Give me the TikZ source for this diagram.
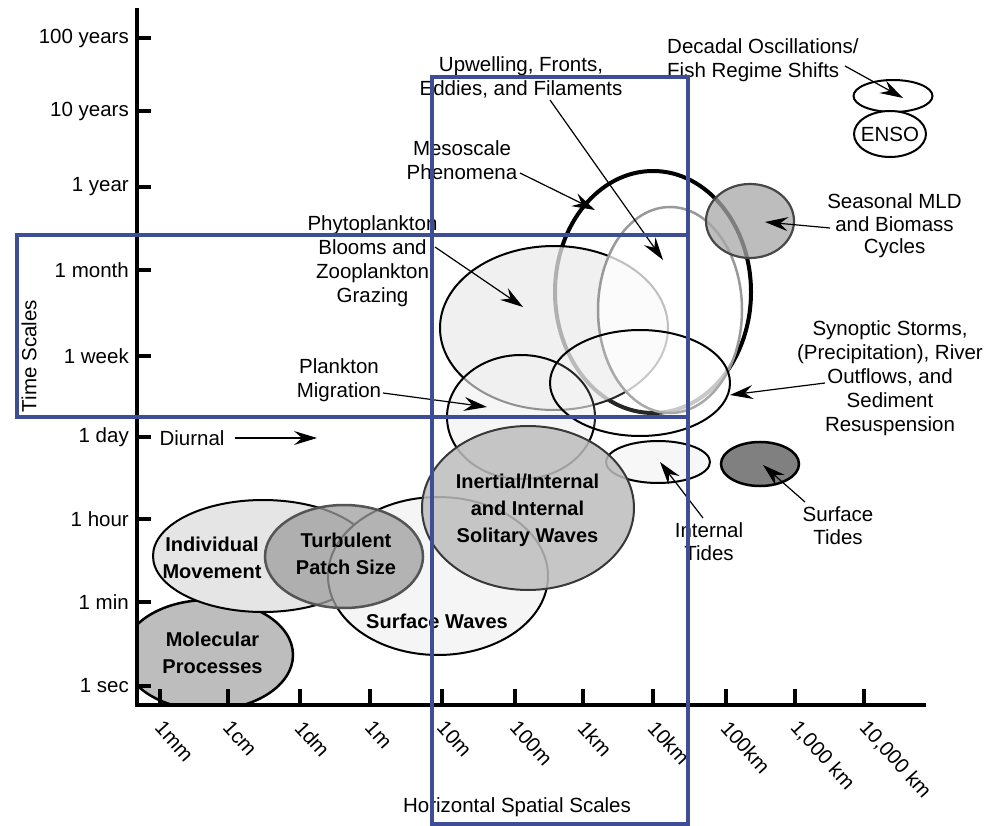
\documentclass[tikz,border=0pt]{standalone}
\usepackage{fontspec}
\setmainfont{Liberation Sans}
\usetikzlibrary{shapes.geometric,arrows.meta}
\definecolor{bluebox}{HTML}{3D4E97}
\begin{document}
\begin{tikzpicture}[x=1pt,y=-1pt,
  lbl/.style={font=\fontsize{20.5}{24}\selectfont, align=center, inner sep=0pt},
  ilbl/.style={font=\fontsize{20}{27}\selectfont\bfseries, align=center, inner sep=0pt},
  ell/.style={ellipse, draw, line width=2pt, inner sep=0pt},
  arr/.style={-{Stealth[length=23pt,width=14pt,inset=8pt]}, line width=1.2pt},
  axtick/.style={line width=3.5pt},
  bluerect/.style={draw=bluebox, line width=4pt}
]
\useasboundingbox (0,0) rectangle (986,826);
\fill[white] (0,0) rectangle (986,826);

% ---- ellipses (back to front)
\begin{scope}
  \clip (137,0) rectangle (986,705);
  \node[ell, line width=2.5pt, fill=black!26, minimum width=170pt, minimum height=110pt] (mol) at (208,655) {};
\end{scope}
\node[ell, fill=black!10, minimum width=220pt, minimum height=112pt] (ind) at (263,556) {};
\node[ell, fill=black!4, minimum width=220pt, minimum height=158pt] (sw) at (438,576) {};
\node[ell, draw=black!67, line width=2.5pt, fill=black!38, fill opacity=0.75, minimum width=158pt, minimum height=103pt] (turb) at (344,556.5) {};
\node[ell, line width=4pt, minimum width=196pt, minimum height=242pt] (meso) at (653,292) {};
\node[ell, fill=black!8, fill opacity=0.75, minimum width=228pt, minimum height=164pt] (phyto) at (554,328) {};
\node[ell, draw=black!40, line width=2.5pt, fill=white, fill opacity=0.75, minimum width=144pt, minimum height=206pt] (upw) at (670,310) {};
\node[ell, fill=black!6, fill opacity=0.6, minimum width=148pt, minimum height=124pt] (pmig) at (521,417) {};
\node[ell, fill=white, fill opacity=0.15, minimum width=180pt, minimum height=106pt] (syn) at (640,383) {};
\node[ell, fill=black!3, minimum width=104pt, minimum height=42pt] (itide) at (658,462) {};
\node[ell, draw=black!78, fill=black!26, fill opacity=0.85, minimum width=212pt, minimum height=164pt] (inert) at (528,508) {};
\node[ell, line width=2.5pt, fill=black!50, minimum width=78pt, minimum height=44pt] (stide) at (760,464) {};
\node[ell, draw=black!72, line width=2.2pt, fill=black!34, fill opacity=0.75, minimum width=88pt, minimum height=74pt] (mld) at (750,221) {};
\node[ell, fill=white, minimum width=79pt, minimum height=32pt] (dec) at (893,96) {};
\node[ell, fill=white, minimum width=72pt, minimum height=46pt] (enso) at (890,134) {};

% ---- texts inside ellipses
\node[ilbl] (tmol) at (212.5,652.5) {Molecular\\Processes};
\node[ilbl] (tind) at (212,557.5) {Individual\\Movement};
\node[ilbl] (tturb) at (346,553.5) {Turbulent\\Patch Size};
\node[ilbl] (tsw) at (437,621) {Surface Waves};
\node[ilbl] (tinert) at (527.5,510) {Inertial/Internal\\and Internal\\Solitary Waves};
\node[lbl] (tenso) at (890,134) {ENSO};

% ---- labels
\node[lbl] (lupw) at (521,77.5) {Upwelling, Fronts,\\Eddies, and Filaments};
\node[lbl] (lmeso) at (462,160) {Mesoscale\\Phenomena};
\node[lbl] (lphyto) at (372.5,261.5) {Phytoplankton\\Blooms and\\Zooplankton\\Grazing};
\node[lbl] (lpmig) at (339,380) {Plankton\\Migration};
\node[lbl] (ldiur) at (192,438) {Diurnal};
\node[lbl, align=left, anchor=west] (ldec) at (667,60) {Decadal Oscillations/\\Fish Regime Shifts};
\node[lbl, font=\fontsize{20.5}{22.5}\selectfont] (lmld) at (894.5,226) {Seasonal MLD\\and Biomass\\Cycles};
\node[lbl] (lsyn) at (890,378) {Synoptic Storms,\\(Precipitation), River\\Outflows, and\\Sediment\\Resuspension};
\node[lbl, font=\fontsize{20.5}{23}\selectfont] (litide) at (709,541.5) {Internal\\Tides};
\node[lbl, font=\fontsize{20.5}{23}\selectfont] (lstide) at (838,526) {Surface\\Tides};

% ---- arrows
\coordinate (adec0) at (845,66);   \coordinate (adec1) at (903,98);
\coordinate (aupw0) at (550,100);  \coordinate (aupw1) at (663,260);
\coordinate (ameso0) at (520,173); \coordinate (ameso1) at (595,210);
\coordinate (aphy0) at (435,247);  \coordinate (aphy1) at (523,307);
\coordinate (apm0) at (383,393);   \coordinate (apm1) at (487,407);
\coordinate (adi0) at (235,438);   \coordinate (adi1) at (317,438);
\coordinate (amld0) at (830,228);  \coordinate (amld1) at (765,222);
\coordinate (asyn0) at (825,383);  \coordinate (asyn1) at (730,395);
\coordinate (ait0) at (703,518);   \coordinate (ait1) at (660,462);
\coordinate (ast0) at (805,502);   \coordinate (ast1) at (763,465);
\draw[arr] (adec0) -- (adec1);
\draw[arr] (aupw0) -- (aupw1);
\draw[arr] (ameso0) -- (ameso1);
\draw[arr] (aphy0) -- (aphy1);
\draw[arr] (apm0) -- (apm1);
\draw[arr] (adi0) -- (adi1);
\draw[arr] (amld0) -- (amld1);
\draw[arr] (asyn0) -- (asyn1);
\draw[arr] (ait0) -- (ait1);
\draw[arr] (ast0) -- (ast1);

% ---- axes
\coordinate (ytop) at (137,8);
\coordinate (org) at (137,705);
\coordinate (xend) at (926,705);
\draw[line width=4pt, line join=miter] (ytop) -- (org) -- (xend);
\foreach \yy/\tt in {38/100 years,111/10 years,187/1 year,270/1 month,356/1 week,437/1 day,519/1 hour,602/1 min,686/1 sec}{
  \draw[axtick] (137,\yy) -- (151,\yy);
  \node[lbl, anchor=east] at (129,\yy) {\tt};
}
\foreach \xx/\tt in {160/1mm,228/1cm,300/1dm,370/1m,442/10m,515/100m,583/1km,653/10km,726/100km,795/{1,000 km},864/{10,000 km}}{
  \draw[axtick] (\xx,705) -- (\xx,689);
  \node[lbl, rotate=-48, anchor=west] at (\xx-1,724) {\tt};
}
\node[lbl, rotate=90] (ylab) at (29,356) {Time Scales};
\node[lbl] (xlab) at (517,807) {Horizontal Spatial Scales};

% ---- blue boxes
\draw[bluerect] (17,235) rectangle (688,417);
\draw[bluerect] (432,77) rectangle (688,824);
\end{tikzpicture}
\end{document}
